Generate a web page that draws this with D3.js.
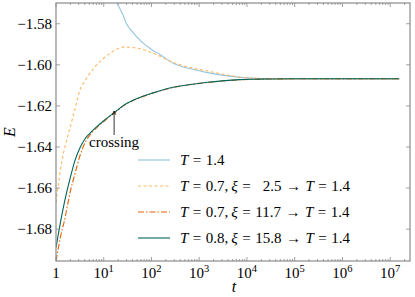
<!DOCTYPE html>
<html>
<head>
<meta charset="utf-8">
<script src="https://cdn.jsdelivr.net/npm/d3@7"></script>
<style>
  body { margin: 0; background: #fff; }
  svg text { font-family: "Liberation Serif", "DejaVu Serif", serif; fill: #000; }
</style>
</head>
<body>
<div id="chart"></div>
<script>
// time grid (shared by every run)
var times = [1, 1.35, 1.5, 1.7, 2, 2.5, 3.2, 4, 5, 7, 10, 15, 20, 25, 30, 40, 60, 100, 150,
  300, 600, 1500, 3000, 7000, 15000, 30000, 1e5, 1e6, 1.55e7];

var energyT14 = [-1.450, -1.470, -1.478, -1.487, -1.497, -1.510, -1.522, -1.532, -1.540, -1.550,
  -1.558, -1.5655, -1.5710, -1.5755, -1.5800, -1.5840, -1.5885, -1.5925, -1.5950, -1.5995,
  -1.6017, -1.6038, -1.6050, -1.6061, -1.6066, -1.6068, -1.6069, -1.6069, -1.6069];
var energyXi25 = [-1.6670, -1.6460, -1.6410, -1.6360, -1.6300, -1.6215, -1.6120, -1.6080, -1.6045, -1.6002,
  -1.5968, -1.5937, -1.5921, -1.5914, -1.5914, -1.5916, -1.5922, -1.5940, -1.5958, -1.5990,
  -1.6012, -1.6030, -1.6045, -1.6060, -1.6066, -1.6068, -1.6069, -1.6069, -1.6069];
var energyXi117 = [-1.6955, -1.6800, -1.6760, -1.6695, -1.6615, -1.6530, -1.6440, -1.6382, -1.6345, -1.6308,
  -1.6276, -1.6243, -1.6220, -1.6202, -1.6190, -1.6175, -1.6158, -1.6140, -1.6127, -1.6109,
  -1.6097, -1.6086, -1.6079, -1.6073, -1.6070, -1.6069, -1.6068, -1.6068, -1.6068];
var energyXi158 = [-1.6890, -1.6722, -1.6670, -1.6614, -1.6548, -1.6465, -1.6402, -1.6362, -1.6336, -1.6303,
  -1.6272, -1.6240, -1.6218, -1.6200, -1.6188, -1.6174, -1.6157, -1.6139, -1.6126, -1.6108,
  -1.6097, -1.6085, -1.6078, -1.6072, -1.6070, -1.6069, -1.6068, -1.6068, -1.6068];

var yTicks = [-1.68, -1.66, -1.64, -1.62, -1.60, -1.58];
var xTickExps = [0, 1, 2, 3, 4, 5, 6, 7];

// legend: starting T, xi (null = no quench), final T
var legendT = ["1.4", "0.7", "0.7", "0.8"];
var legendXi = [null, "2.5", "11.7", "15.8"];
var legendFinal = "1.4";
var crossingT = 16.5;

var series = [
  {vals: energyT14,  color: "#92c5de", dash: null},
  {vals: energyXi25, color: "#fdb863", dash: "3,2.5"},
  {vals: energyXi117, color: "#e66101", dash: "6,2,1.5,2"},
  {vals: energyXi158, color: "#01665e", dash: null}
];

function draw() {
var W = 415, H = 297;
var mLeft = 56, mRight = 410, mTop = 3, mBottom = 261;

var svg = d3.select("#chart").append("svg")
  .attr("width", W).attr("height", H);

var x = d3.scaleLog().domain([1, 2.6e7]).range([mLeft, mRight]);
var y = d3.scaleLinear().domain([-1.6955, -1.5699]).range([mBottom, mTop]);

svg.append("clipPath").attr("id", "clip")
  .append("rect").attr("x", mLeft).attr("y", mTop)
  .attr("width", mRight - mLeft).attr("height", mBottom - mTop);

var line = d3.line()
  .x(function(d) { return x(d[0]); })
  .y(function(d) { return y(d[1]); })
  .curve(d3.curveMonotoneX);

var g = svg.append("g").attr("clip-path", "url(#clip)");
series.forEach(function(s) {
  var pts = times.map(function(t, i) { return [t, s.vals[i]]; });
  g.append("path")
    .attr("d", line(pts))
    .attr("fill", "none")
    .attr("stroke", s.color)
    .attr("stroke-width", 1.1)
    .attr("stroke-dasharray", s.dash);
});

// ticks, inward on all four sides
var axisColor = "#8a8a8a";
var tk = svg.append("g").attr("stroke", axisColor).attr("stroke-width", 0.8);
xTickExps.forEach(function(e) {
  var px = x(Math.pow(10, e));
  tk.append("line").attr("x1", px).attr("x2", px).attr("y1", mBottom).attr("y2", mBottom - 4);
  tk.append("line").attr("x1", px).attr("x2", px).attr("y1", mTop).attr("y2", mTop + 4);
});
for (var e = 0; e <= 7; e++) {
  for (var m = 2; m <= 9; m++) {
    var v = m * Math.pow(10, e);
    if (v > x.domain()[1]) continue;
    var px = x(v);
    tk.append("line").attr("x1", px).attr("x2", px).attr("y1", mBottom).attr("y2", mBottom - 2);
    tk.append("line").attr("x1", px).attr("x2", px).attr("y1", mTop).attr("y2", mTop + 2);
  }
}
yTicks.forEach(function(v) {
  var py = y(v);
  tk.append("line").attr("x1", mLeft).attr("x2", mLeft + 4).attr("y1", py).attr("y2", py);
  tk.append("line").attr("x1", mRight).attr("x2", mRight - 4).attr("y1", py).attr("y2", py);
});

svg.append("rect")
  .attr("x", mLeft).attr("y", mTop)
  .attr("width", mRight - mLeft).attr("height", mBottom - mTop)
  .attr("fill", "none").attr("stroke", axisColor).attr("stroke-width", 1.2);

// tick labels
yTicks.forEach(function(v) {
  svg.append("text")
    .attr("x", mLeft - 4).attr("y", y(v) + 5)
    .attr("text-anchor", "end")
    .style("font-size", "15px")
    .text("\u2212" + Math.abs(v).toFixed(2));
});
xTickExps.forEach(function(e) {
  var t = svg.append("text")
    .attr("x", x(Math.pow(10, e))).attr("y", 278)
    .attr("text-anchor", "middle")
    .style("font-size", "15px");
  if (e === 0) { t.text("1"); return; }
  t.append("tspan").text("10");
  t.append("tspan").attr("dy", -6).style("font-size", "10.5px").text(e);
});

// axis labels
svg.append("text")
  .attr("x", 234).attr("y", 292)
  .attr("text-anchor", "middle")
  .style("font-size", "16px").style("font-style", "italic")
  .text("t");
svg.append("text")
  .attr("transform", "translate(15,132) rotate(-90)")
  .attr("text-anchor", "middle")
  .style("font-size", "16px").style("font-style", "italic")
  .text("E");

// crossing annotation
svg.append("defs").append("marker")
  .attr("id", "head").attr("viewBox", "0 0 10 10")
  .attr("refX", 9).attr("refY", 5)
  .attr("markerWidth", 6).attr("markerHeight", 6)
  .attr("orient", "auto")
  .append("path").attr("d", "M0,1 L10,5 L0,9").attr("fill", "none")
  .attr("stroke", "#000").attr("stroke-width", 1.2);
svg.append("line")
  .attr("x1", x(crossingT)).attr("x2", x(crossingT))
  .attr("y1", 135).attr("y2", 111)
  .attr("stroke", "#000").attr("stroke-width", 0.8)
  .attr("marker-end", "url(#head)");
svg.append("text")
  .attr("x", x(crossingT)).attr("y", 147)
  .attr("text-anchor", "middle")
  .style("font-size", "15px")
  .text("crossing");

// legend, with math-like spacing around = and the arrow
var lg = svg.append("g");
var sp = 4.5;
series.forEach(function(s, i) {
  var ly = 160 + i * 26;
  lg.append("line")
    .attr("x1", 138).attr("x2", 170).attr("y1", ly).attr("y2", ly)
    .attr("stroke", s.color).attr("stroke-width", 1.1)
    .attr("stroke-dasharray", s.dash);
  var t = lg.append("text").attr("x", 180).attr("y", ly + 5).style("font-size", "15px");
  t.append("tspan").style("font-style", "italic").text("T");
  t.append("tspan").attr("dx", sp).text("=");
  t.append("tspan").attr("dx", sp).text(legendT[i]);
  if (legendXi[i] !== null) {
    t.append("tspan").text(",");
    t.append("tspan").attr("dx", 3).style("font-style", "italic").text("\u03be");
    t.append("tspan").attr("dx", sp).text("=");
    t.append("tspan").attr("dx", sp + (legendXi[i].length < 4 ? 7.5 : 0)).text(legendXi[i]);
    t.append("tspan").attr("dx", sp).text("\u2192");
    t.append("tspan").attr("dx", sp).style("font-style", "italic").text("T");
    t.append("tspan").attr("dx", sp).text("=");
    t.append("tspan").attr("dx", sp).text(legendFinal);
  }
});
}

draw();
</script>
</body>
</html>
